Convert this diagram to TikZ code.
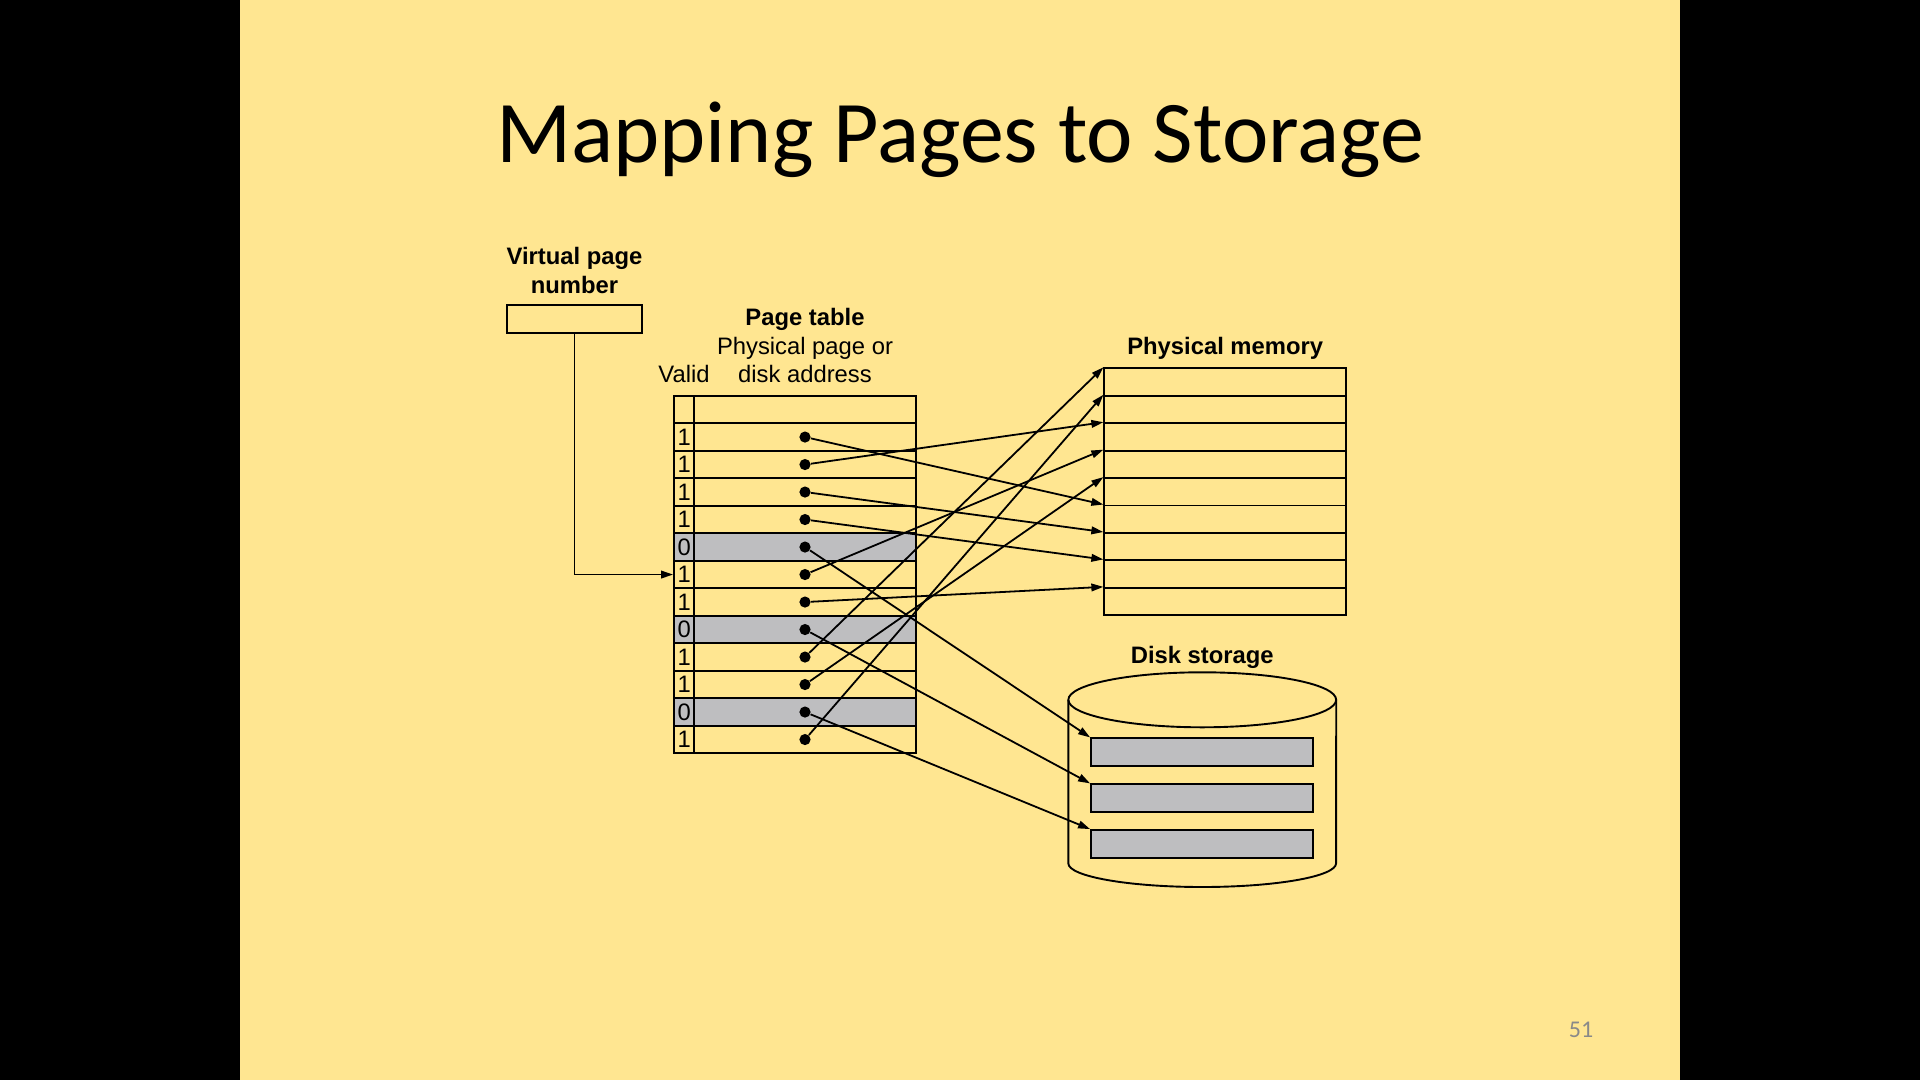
\documentclass[tikz,border=0pt]{standalone}
\usepackage{fontspec}
\setmainfont{Liberation Sans}
\newfontfamily\titlefont{Carlito}
\usetikzlibrary{arrows.meta}
\definecolor{slide}{RGB}{255,230,145}
\definecolor{cellgray}{RGB}{190,190,192}
\definecolor{pnum}{RGB}{137,137,137}
\begin{document}
\begin{tikzpicture}[x=0.5pt,y=-0.5pt,
  lab/.style={inner sep=0pt,anchor=base,font=\fontsize{11.9pt}{14pt}\selectfont},
  blab/.style={inner sep=0pt,anchor=base,font=\fontsize{11.9pt}{14pt}\selectfont\bfseries},
  frame/.style={draw=black,line width=0.95pt},
  validcell/.style={frame,rectangle,inner sep=0pt,minimum width=10.15pt,minimum height=13.75pt,font=\fontsize{11.9pt}{14pt}\selectfont},
  addrcell/.style={frame,rectangle,inner sep=0pt,minimum width=110.85pt,minimum height=13.75pt},
  memrow/.style={frame,rectangle,inner sep=0pt,minimum width=120.85pt,minimum height=13.72pt},
  diskblock/.style={frame,rectangle,fill=cellgray,inner sep=0pt,minimum width=111.15pt,minimum height=13.85pt},
  dotmark/.style={circle,fill=black,inner sep=0pt,minimum size=5.6pt},
  conn/.style={draw=black,line width=0.9pt,-{Triangle[length=6pt,width=3.8pt]}}
]
% background
\fill[black] (0,0) rectangle (1920,1080);
\fill[slide] (240,0) rectangle (1680,1080);

% title and page number
\node[inner sep=0pt,anchor=base,font=\titlefont\fontsize{44pt}{52pt}\selectfont] (title) at (960,163) {Mapping Pages to Storage};
\node[inner sep=0pt,anchor=base,text=pnum,font=\titlefont\fontsize{12pt}{14pt}\selectfont] (pagenum) at (1581,1037.7) {51};

% virtual page number
\node[blab] (vpn1) at (574.5,265) {Virtual page};
\node[blab] (vpn2) at (574.5,293.3) {number};
\node[frame,rectangle,inner sep=0pt,minimum width=67.8pt,minimum height=13.85pt] (vpn) at (574.5,318.9) {};

% page table labels
\node[blab] (ptl) at (805,325.7) {Page table};
\node[lab] (ptl2) at (805,355) {Physical page or};
\node[lab] (ptl3) at (805,382.3) {disk address};
\node[lab] (validl) at (684,382.3) {Valid};

% page table header
\draw[frame] (674,395.7) rectangle (916,423.3);
\draw[frame] (694.3,395.7) -- (694.3,423.3);

% page table rows
\foreach \v/\f [count=\i from 0] in {1/slide,1/slide,1/slide,1/slide,0/cellgray,1/slide,1/slide,0/cellgray,1/slide,1/slide,0/cellgray,1/slide}{
  \pgfmathsetmacro\yc{437.05+27.5*\i}
  \node[validcell,fill=\f] (c\i) at (684.15,\yc) {\v};
  \node[addrcell,fill=\f] (a\i) at (805.15,\yc) {};
  \node[dotmark] (d\i) at (805,\yc) {};
}
\draw[frame] (674,395.7) rectangle (916,753.3);

% physical memory
\node[blab] (pml) at (1225.2,354.3) {Physical memory};
\foreach \k in {0,...,8}{
  \pgfmathsetmacro\ym{368.3+27.44*(\k+0.5)}
  \node[memrow] (p\k) at (1225.15,\ym) {};
}

% disk storage
\node[blab] (dsl) at (1202.3,663.3) {Disk storage};
\draw[frame] (1068.3,699.8) -- (1068.3,863.3) arc[start angle=180,end angle=360,x radius=66.95pt,y radius=11.85pt] -- (1336.2,699.8);
\draw[frame] (1202.25,699.8) ellipse [x radius=66.95pt,y radius=13.75pt];
\node[diskblock] (k1) at (1202.2,752.2) {};
\node[diskblock] (k2) at (1202.2,798.2) {};
\node[diskblock] (k3) at (1202.2,843.9) {};

% virtual page number pointer
\draw[conn] (vpn.south) |- (c5.west);

% mappings
\draw[conn] (d0) -- (p5.north west);
\draw[conn] (d1) -- (p2.north west);
\draw[conn] (d2) -- (p6.north west);
\draw[conn] (d3) -- (p7.north west);
\draw[conn] (d4) -- (k1.north west);
\draw[conn] (d5) -- (p3.north west);
\draw[conn] (d6) -- (p8.north west);
\draw[conn] (d7) -- (k2.north west);
\draw[conn] (d8) -- (p0.north west);
\draw[conn] (d9) -- (p4.north west);
\draw[conn] (d10) -- (k3.north west);
\draw[conn] (d11) -- (p1.north west);
\end{tikzpicture}
\end{document}
